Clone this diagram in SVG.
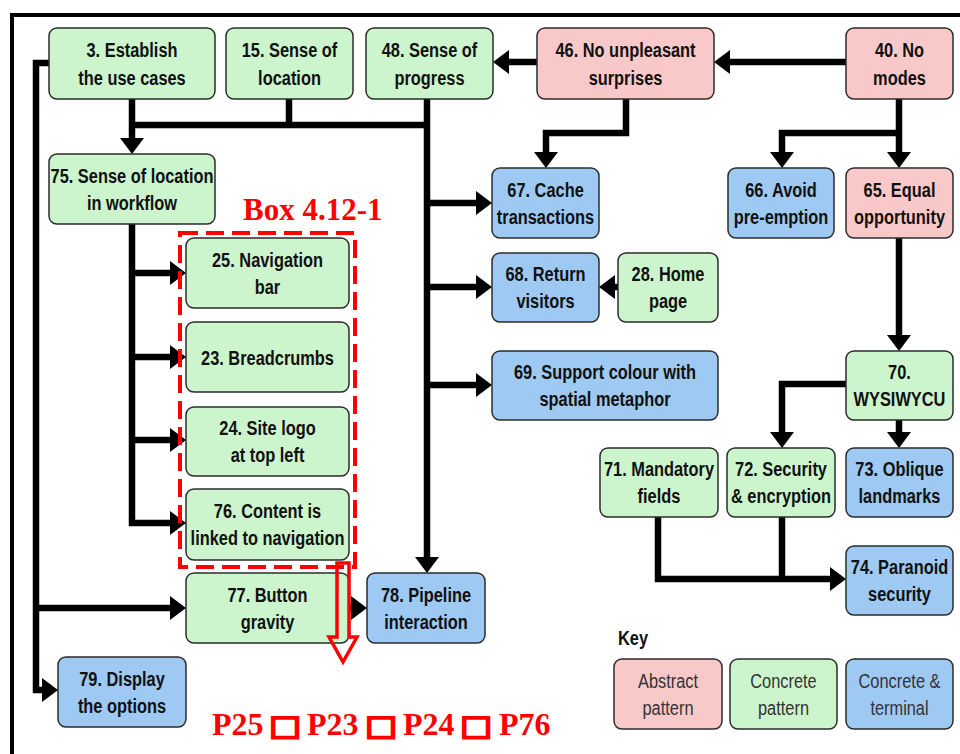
<svg xmlns="http://www.w3.org/2000/svg" width="960" height="754" viewBox="0 0 960 754">
  <defs>
    <marker id="arr" markerUnits="userSpaceOnUse" markerWidth="16" markerHeight="24" refX="8" refY="12" orient="auto">
      <path d="M0,0 L16,12 L0,24 Z" fill="#000"/>
    </marker>
    <style>
      .abs { fill: #f9c9c9; }
      .con { fill: #cdf5cd; }
      .ter { fill: #9dc9f3; }
      rect.box { stroke: #2b2b2b; stroke-width: 1.5; }
      .lbl { font-family: "Liberation Sans", Arial, sans-serif; font-weight: bold; font-size: 21px; fill: #111; text-anchor: middle; }
      .klbl { font-family: "Liberation Sans", Arial, sans-serif; font-size: 21px; fill: #333; text-anchor: middle; }
      .wire { fill: none; stroke: #000; stroke-width: 6.5; stroke-linejoin: miter; }
      .red { font-family: "Liberation Serif", "Times New Roman", serif; font-weight: bold; fill: #ff0000; }
      .sq { font-family: "DejaVu Sans", sans-serif; font-size: 28px; fill: #ff0000; stroke: #ff0000; stroke-width: 2.2; text-anchor: middle; }
    </style>
  </defs>

  <rect width="960" height="754" fill="#fff"/>
  <!-- outer frame -->
  <path d="M12,760 V15 H964" fill="none" stroke="#000" stroke-width="4"/>

  <!-- connectors -->
  <g id="connectors" class="wire">
    <path d="M846,62 H722" marker-end="url(#arr)"/>
    <path d="M537,62 H501" marker-end="url(#arr)"/>
    <path d="M626,99 V133 H546 V160" marker-end="url(#arr)"/>
    <path d="M899,99 V160" marker-end="url(#arr)"/>
    <path d="M899,133 H782 V160" marker-end="url(#arr)"/>
    <path d="M132,99 V146" marker-end="url(#arr)"/>
    <path d="M132,125 H427"/>
    <path d="M289,99 V125"/>
    <path d="M427,99 V565" marker-end="url(#arr)"/>
    <path d="M427,203 H484" marker-end="url(#arr)"/>
    <path d="M427,287 H484" marker-end="url(#arr)"/>
    <path d="M427,385 H484" marker-end="url(#arr)"/>
    <path d="M618,287 H607" marker-end="url(#arr)"/>
    <path d="M899,238 V343" marker-end="url(#arr)"/>
    <path d="M899,420 V440" marker-end="url(#arr)"/>
    <path d="M846,384 H782 V440" marker-end="url(#arr)"/>
    <path d="M658,517 V579 H838" marker-end="url(#arr)"/>
    <path d="M782,517 V579"/>
    <path d="M132,224 V523 H178" marker-end="url(#arr)"/>
    <path d="M132,273 H178" marker-end="url(#arr)"/>
    <path d="M132,357 H178" marker-end="url(#arr)"/>
    <path d="M132,440 H178" marker-end="url(#arr)"/>
    <path d="M49,63 H36 V690 H50" marker-end="url(#arr)"/>
    <path d="M36,608 H178" marker-end="url(#arr)"/>
    <path d="M349,608 H359" marker-end="url(#arr)"/>
  </g>

  <!-- pattern nodes -->
  <g id="n3"><rect class="box con" x="49" y="28" width="166" height="71" rx="8"/>
    <text class="lbl" transform="translate(132,0) scale(0.78,1)"><tspan x="0" y="57">3.  Establish</tspan><tspan x="0" y="85">the use cases</tspan></text></g>
  <g id="n15"><rect class="box con" x="226" y="28" width="127" height="71" rx="8"/>
    <text class="lbl" transform="translate(289.5,0) scale(0.78,1)"><tspan x="0" y="57">15. Sense of</tspan><tspan x="0" y="85">location</tspan></text></g>
  <g id="n48"><rect class="box con" x="366" y="28" width="127" height="71" rx="8"/>
    <text class="lbl" transform="translate(429.5,0) scale(0.78,1)"><tspan x="0" y="57">48. Sense of</tspan><tspan x="0" y="85">progress</tspan></text></g>
  <g id="n46"><rect class="box abs" x="537" y="28" width="177" height="71" rx="8"/>
    <text class="lbl" transform="translate(625.5,0) scale(0.78,1)"><tspan x="0" y="57">46. No unpleasant</tspan><tspan x="0" y="85">surprises</tspan></text></g>
  <g id="n40"><rect class="box abs" x="846" y="28" width="107" height="71" rx="8"/>
    <text class="lbl" transform="translate(899.5,0) scale(0.78,1)"><tspan x="0" y="57">40. No</tspan><tspan x="0" y="85">modes</tspan></text></g>
  <g id="n75"><rect class="box con" x="49" y="154" width="166" height="70" rx="8"/>
    <text class="lbl" transform="translate(132,0) scale(0.78,1)"><tspan x="0" y="183">75. Sense of location</tspan><tspan x="0" y="210">in workflow</tspan></text></g>
  <g id="n67"><rect class="box ter" x="492" y="168" width="107" height="70" rx="8"/>
    <text class="lbl" transform="translate(545.5,0) scale(0.78,1)"><tspan x="0" y="197">67. Cache</tspan><tspan x="0" y="224">transactions</tspan></text></g>
  <g id="n66"><rect class="box ter" x="728" y="168" width="106" height="70" rx="8"/>
    <text class="lbl" transform="translate(781,0) scale(0.78,1)"><tspan x="0" y="197">66. Avoid</tspan><tspan x="0" y="224">pre-emption</tspan></text></g>
  <g id="n65"><rect class="box abs" x="846" y="168" width="107" height="70" rx="8"/>
    <text class="lbl" transform="translate(899.5,0) scale(0.78,1)"><tspan x="0" y="197">65. Equal</tspan><tspan x="0" y="224">opportunity</tspan></text></g>
  <g id="n25"><rect class="box con" x="186" y="238" width="163" height="70" rx="8"/>
    <text class="lbl" transform="translate(267.5,0) scale(0.78,1)"><tspan x="0" y="267">25. Navigation</tspan><tspan x="0" y="294">bar</tspan></text></g>
  <g id="n68"><rect class="box ter" x="492" y="253" width="107" height="69" rx="8"/>
    <text class="lbl" transform="translate(545.5,0) scale(0.78,1)"><tspan x="0" y="281">68. Return</tspan><tspan x="0" y="308">visitors</tspan></text></g>
  <g id="n28"><rect class="box con" x="618" y="253" width="100" height="69" rx="8"/>
    <text class="lbl" transform="translate(668,0) scale(0.78,1)"><tspan x="0" y="281">28. Home</tspan><tspan x="0" y="308">page</tspan></text></g>
  <g id="n23"><rect class="box con" x="186" y="322" width="163" height="70" rx="8"/>
    <text class="lbl" transform="translate(267.5,0) scale(0.78,1)"><tspan x="0" y="365">23. Breadcrumbs</tspan></text></g>
  <g id="n69"><rect class="box ter" x="492" y="351" width="226" height="69" rx="8"/>
    <text class="lbl" transform="translate(605,0) scale(0.78,1)"><tspan x="0" y="379">69. Support colour with</tspan><tspan x="0" y="406">spatial metaphor</tspan></text></g>
  <g id="n70"><rect class="box con" x="846" y="351" width="107" height="69" rx="8"/>
    <text class="lbl" transform="translate(899.5,0) scale(0.78,1)"><tspan x="0" y="379">70.</tspan><tspan x="0" y="406">WYSIWYCU</tspan></text></g>
  <g id="n24"><rect class="box con" x="186" y="407" width="163" height="69" rx="8"/>
    <text class="lbl" transform="translate(267.5,0) scale(0.78,1)"><tspan x="0" y="435">24. Site logo</tspan><tspan x="0" y="462">at top left</tspan></text></g>
  <g id="n71"><rect class="box con" x="600" y="448" width="118" height="69" rx="8"/>
    <text class="lbl" transform="translate(659,0) scale(0.78,1)"><tspan x="0" y="476">71. Mandatory</tspan><tspan x="0" y="503">fields</tspan></text></g>
  <g id="n72"><rect class="box con" x="727" y="448" width="108" height="69" rx="8"/>
    <text class="lbl" transform="translate(781,0) scale(0.78,1)"><tspan x="0" y="476">72. Security</tspan><tspan x="0" y="503">&amp; encryption</tspan></text></g>
  <g id="n73"><rect class="box ter" x="846" y="448" width="107" height="69" rx="8"/>
    <text class="lbl" transform="translate(899.5,0) scale(0.78,1)"><tspan x="0" y="476">73. Oblique</tspan><tspan x="0" y="503">landmarks</tspan></text></g>
  <g id="n76"><rect class="box con" x="186" y="489" width="163" height="71" rx="8"/>
    <text class="lbl" transform="translate(267.5,0) scale(0.78,1)"><tspan x="0" y="518">76. Content is</tspan><tspan x="0" y="545">linked to navigation</tspan></text></g>
  <g id="n74"><rect class="box ter" x="846" y="546" width="107" height="69" rx="8"/>
    <text class="lbl" transform="translate(899.5,0) scale(0.78,1)"><tspan x="0" y="574">74. Paranoid</tspan><tspan x="0" y="601">security</tspan></text></g>
  <g id="n77"><rect class="box con" x="186" y="573" width="163" height="70" rx="8"/>
    <text class="lbl" transform="translate(267.5,0) scale(0.78,1)"><tspan x="0" y="602">77. Button</tspan><tspan x="0" y="629">gravity</tspan></text></g>
  <g id="n78"><rect class="box ter" x="367" y="573" width="118" height="70" rx="8"/>
    <text class="lbl" transform="translate(426,0) scale(0.78,1)"><tspan x="0" y="602">78. Pipeline</tspan><tspan x="0" y="629">interaction</tspan></text></g>
  <g id="n79"><rect class="box ter" x="58" y="657" width="128" height="70" rx="8"/>
    <text class="lbl" transform="translate(122,0) scale(0.78,1)"><tspan x="0" y="686">79. Display</tspan><tspan x="0" y="713">the options</tspan></text></g>

  <!-- key -->
  <g id="key">
    <text class="lbl" style="text-anchor:start" transform="translate(618,0) scale(0.78,1)" x="0" y="645">Key</text>
    <rect class="box abs" x="614" y="659" width="108" height="70" rx="8"/>
    <text class="klbl" transform="translate(668,0) scale(0.78,1)"><tspan x="0" y="688">Abstract</tspan><tspan x="0" y="715">pattern</tspan></text>
    <rect class="box con" x="730" y="659" width="107" height="70" rx="8"/>
    <text class="klbl" transform="translate(783.5,0) scale(0.78,1)"><tspan x="0" y="688">Concrete</tspan><tspan x="0" y="715">pattern</tspan></text>
    <rect class="box ter" x="846" y="659" width="107" height="70" rx="8"/>
    <text class="klbl" transform="translate(899.5,0) scale(0.78,1)"><tspan x="0" y="688">Concrete &amp;</tspan><tspan x="0" y="715">terminal</tspan></text>
  </g>

  <!-- highlighted group with its reading order -->
  <g id="box-4-12-1">
    <text class="red" x="243" y="220" font-size="31">Box 4.12-1</text>
    <rect x="180" y="233" width="175" height="334" fill="none" stroke="#ff0000" stroke-width="4" stroke-dasharray="18 8"/>
    <path d="M337,563 H349 V637 H357 L343,662 L329,637 H337 Z" fill="none" stroke="#ff0000" stroke-width="3.5" stroke-linejoin="miter"/>
    <text class="red" font-size="32" y="735">
      <tspan x="212">P25</tspan><tspan x="307">P23</tspan><tspan x="403">P24</tspan><tspan x="499">P76</tspan>
    </text>
    <text class="sq" transform="translate(285,735) scale(1.2,1)">□</text>
    <text class="sq" transform="translate(381,735) scale(1.2,1)">□</text>
    <text class="sq" transform="translate(476,735) scale(1.2,1)">□</text>
  </g>
</svg>
